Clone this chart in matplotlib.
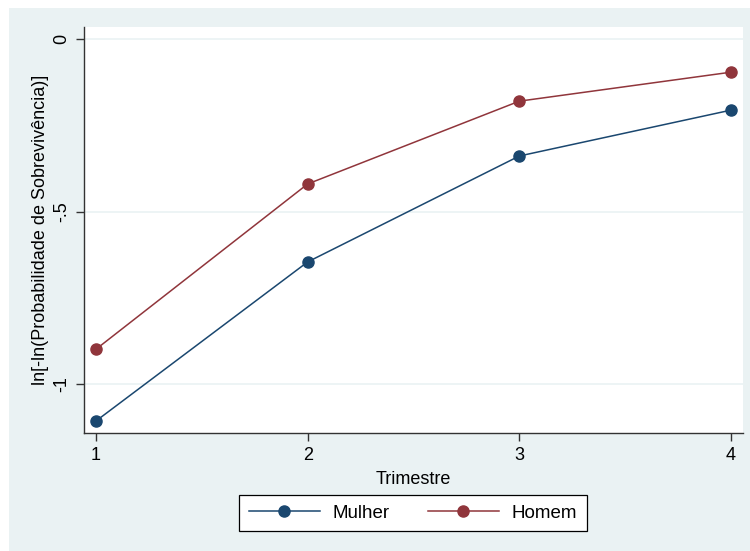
import matplotlib.pyplot as plt
from matplotlib.patches import Rectangle

trimestre = [1, 2, 3, 4]
mulher = [-1.107, -0.646, -0.339, -0.206]
homem = [-0.899, -0.420, -0.180, -0.096]

navy = '#1A476F'
maroon = '#90353B'
bg = '#EAF2F3'

plt.rcParams['font.family'] = ['Liberation Sans', 'DejaVu Sans']

fig = plt.figure(figsize=(7.5, 5.51), dpi=100)
fig.patch.set_facecolor('white')
fig.patches.append(Rectangle((9 / 750, 0), 1, 1 - 8 / 551, transform=fig.transFigure,
                             facecolor=bg, edgecolor='none', zorder=-5))

ax = fig.add_axes([84 / 750, 1 - 433 / 551, (743 - 84) / 750, (433 - 27) / 551])
ax.set_facecolor('white')

ax.plot(trimestre, mulher, '-o', color=navy, lw=1.1, ms=8, label='Mulher', clip_on=False, zorder=3)
ax.plot(trimestre, homem, '-o', color=maroon, lw=1.1, ms=8, label='Homem', clip_on=False, zorder=3)

ax.set_xlim(0.943, 4.057)
ax.set_ylim(-1.142, 0.035)
ax.set_xticks(trimestre)
ax.set_yticks([0, -0.5, -1])
ax.set_yticklabels(['0', '-.5', '-1'], rotation=90, va='center')
ax.grid(axis='y', color=bg, lw=1.2)
ax.set_axisbelow(True)

for s in ['top', 'right']:
    ax.spines[s].set_visible(False)
for s in ['left', 'bottom']:
    ax.spines[s].set_color('#333333')
    ax.spines[s].set_linewidth(1.0)
ax.tick_params(direction='out', length=6, width=1, color='#333333', labelsize=13, pad=4)

ax.set_xlabel('Trimestre', fontsize=13, labelpad=5)
ax.set_ylabel('ln[-ln(Probabilidade de Sobrevivência)]', fontsize=13, labelpad=3)

leg = fig.legend(loc='center', bbox_to_anchor=(413 / 750, 1 - 513 / 551), ncol=2,
                 fontsize=13.5, frameon=True, fancybox=False, edgecolor='black',
                 framealpha=1, handlelength=3.8, handletextpad=0.7, columnspacing=2.0,
                 borderpad=0.5)
leg.get_frame().set_linewidth(0.9)

fig.savefig('out.png', dpi=100)
